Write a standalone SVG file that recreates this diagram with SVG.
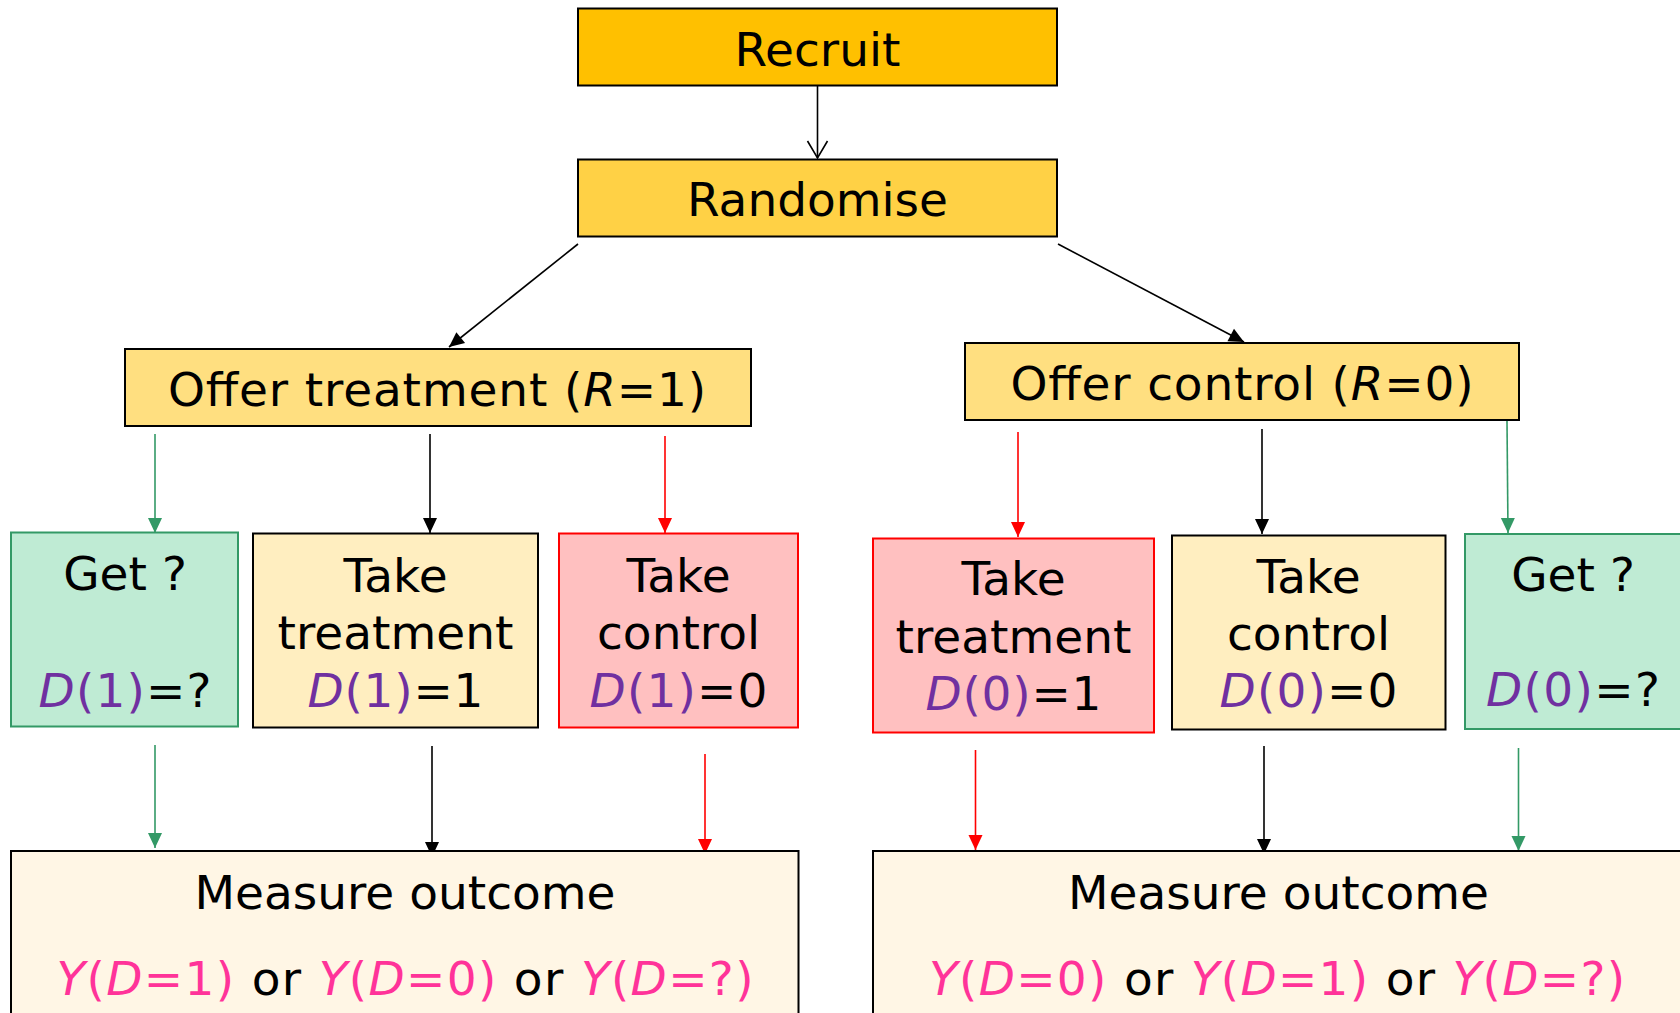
<svg xmlns="http://www.w3.org/2000/svg" width="1680" height="1013" viewBox="0 0 1680 1013">
  <style>
    text { font-family: "DejaVu Sans", Verdana, "Liberation Sans", sans-serif; font-size: 47px; fill: #000; }
    .it { font-style: italic; }
    .pu { fill: #7030A0; }
    .pk { fill: #FF3399; }
    .box { stroke-width: 2; }
    .blk { stroke: #000; }
    .grn { stroke: #339966; }
    .red { stroke: #FF0000; }
    .ln { fill: none; stroke-width: 1.6; }
  </style>
  <defs>
    <marker id="ah-black" markerUnits="userSpaceOnUse" markerWidth="15" markerHeight="14" refX="15" refY="7" orient="auto" overflow="visible">
      <path d="M0,0 L15,7 L0,14 z" fill="#000"/>
    </marker>
    <marker id="ah-green" markerUnits="userSpaceOnUse" markerWidth="15" markerHeight="14" refX="15" refY="7" orient="auto" overflow="visible">
      <path d="M0,0 L15,7 L0,14 z" fill="#339966"/>
    </marker>
    <marker id="ah-red" markerUnits="userSpaceOnUse" markerWidth="15" markerHeight="14" refX="15" refY="7" orient="auto" overflow="visible">
      <path d="M0,0 L15,7 L0,14 z" fill="#FF0000"/>
    </marker>
    <marker id="ah-open" markerUnits="userSpaceOnUse" markerWidth="18" markerHeight="22" refX="17" refY="10" orient="auto" overflow="visible">
      <path d="M0,0 L17,10 L0,20" fill="none" stroke="#000" stroke-width="1.6"/>
    </marker>
  </defs>

  <rect width="1680" height="1013" fill="#FFFFFF"/>

  <!-- connectors -->
  <g id="connectors">
    <line class="ln blk" x1="817.5" y1="86" x2="817.5" y2="158" marker-end="url(#ah-open)"/>
    <line class="ln blk" x1="578" y1="244" x2="449" y2="347" marker-end="url(#ah-black)"/>
    <line class="ln blk" x1="1058" y1="244" x2="1244" y2="342" marker-end="url(#ah-black)"/>

    <line class="ln grn" x1="155" y1="434" x2="155" y2="533" marker-end="url(#ah-green)"/>
    <line class="ln blk" x1="430" y1="434" x2="430" y2="533" marker-end="url(#ah-black)"/>
    <line class="ln red" x1="665" y1="436" x2="665" y2="533" marker-end="url(#ah-red)"/>

    <line class="ln red" x1="1018" y1="432" x2="1018" y2="537" marker-end="url(#ah-red)"/>
    <line class="ln blk" x1="1262" y1="429" x2="1262" y2="534" marker-end="url(#ah-black)"/>
    <line class="ln grn" x1="1507" y1="421" x2="1508" y2="533" marker-end="url(#ah-green)"/>

    <line class="ln grn" x1="155" y1="745" x2="155" y2="848" marker-end="url(#ah-green)"/>
    <line class="ln blk" x1="432" y1="746" x2="432" y2="857" marker-end="url(#ah-black)"/>
    <line class="ln red" x1="705" y1="754" x2="705" y2="854" marker-end="url(#ah-red)"/>

    <line class="ln red" x1="975.5" y1="750" x2="975.5" y2="850" marker-end="url(#ah-red)"/>
    <line class="ln blk" x1="1264" y1="746" x2="1264" y2="854" marker-end="url(#ah-black)"/>
    <line class="ln grn" x1="1518.5" y1="748" x2="1518.5" y2="851" marker-end="url(#ah-green)"/>
  </g>

  <!-- top of the flow -->
  <g id="recruit">
    <rect class="box blk" x="578" y="8.5" width="479" height="77" fill="#FFC000"/>
    <text x="817.5" y="65.5" text-anchor="middle">Recruit</text>
  </g>
  <g id="randomise">
    <rect class="box blk" x="578" y="159.5" width="479" height="77" fill="#FFD145"/>
    <text x="817.5" y="216" text-anchor="middle">Randomise</text>
  </g>

  <!-- randomised arms -->
  <g id="offer-treatment">
    <rect class="box blk" x="125" y="349" width="626" height="77" fill="#FFDF80"/>
    <text x="437" y="406" text-anchor="middle" textLength="538" lengthAdjust="spacing">Offer treatment (<tspan class="it">R</tspan>=1)</text>
  </g>
  <g id="offer-control">
    <rect class="box blk" x="965" y="343" width="554" height="77" fill="#FFDF80"/>
    <text x="1242" y="400" text-anchor="middle" textLength="463" lengthAdjust="spacing">Offer control (<tspan class="it">R</tspan>=0)</text>
  </g>

  <!-- treatment arm: received treatment -->
  <g id="t-get">
    <rect class="box grn" x="11" y="532.5" width="227" height="194" fill="#BFEBD4"/>
    <text x="125" y="590" text-anchor="middle">Get ?</text>
    <text x="125" y="707" text-anchor="middle" textLength="173" lengthAdjust="spacing"><tspan class="it pu">D</tspan><tspan class="pu">(1)</tspan>=?</text>
  </g>
  <g id="t-take-treatment">
    <rect class="box blk" x="253" y="533.5" width="285" height="194" fill="#FFEEC0"/>
    <text x="395.5" y="592" text-anchor="middle">Take</text>
    <text x="395.5" y="649" text-anchor="middle">treatment</text>
    <text x="395.5" y="707" text-anchor="middle" textLength="176" lengthAdjust="spacing"><tspan class="it pu">D</tspan><tspan class="pu">(1)</tspan>=1</text>
  </g>
  <g id="t-take-control">
    <rect class="box red" x="559" y="533.5" width="239" height="194" fill="#FFC0C0"/>
    <text x="678.5" y="592" text-anchor="middle">Take</text>
    <text x="678.5" y="649" text-anchor="middle">control</text>
    <text x="678.5" y="707" text-anchor="middle" textLength="178" lengthAdjust="spacing"><tspan class="it pu">D</tspan><tspan class="pu">(1)</tspan>=0</text>
  </g>

  <!-- control arm: received treatment -->
  <g id="c-take-treatment">
    <rect class="box red" x="873" y="538.5" width="281" height="194" fill="#FFC0C0"/>
    <text x="1013.5" y="595" text-anchor="middle">Take</text>
    <text x="1013.5" y="653" text-anchor="middle">treatment</text>
    <text x="1013.5" y="710" text-anchor="middle" textLength="176" lengthAdjust="spacing"><tspan class="it pu">D</tspan><tspan class="pu">(0)</tspan>=1</text>
  </g>
  <g id="c-take-control">
    <rect class="box blk" x="1172" y="535.5" width="273.5" height="194" fill="#FFEEC0"/>
    <text x="1308.5" y="593" text-anchor="middle">Take</text>
    <text x="1308.5" y="650" text-anchor="middle">control</text>
    <text x="1308.5" y="707" text-anchor="middle" textLength="178" lengthAdjust="spacing"><tspan class="it pu">D</tspan><tspan class="pu">(0)</tspan>=0</text>
  </g>
  <g id="c-get">
    <rect class="box grn" x="1465" y="534" width="226" height="195" fill="#BFEBD4"/>
    <text x="1573" y="590.5" text-anchor="middle">Get ?</text>
    <text x="1573" y="706" text-anchor="middle" textLength="174" lengthAdjust="spacing"><tspan class="it pu">D</tspan><tspan class="pu">(0)</tspan>=?</text>
  </g>

  <!-- outcomes -->
  <g id="t-measure">
    <rect class="box blk" x="11" y="851" width="787.5" height="190" fill="#FFF6E5"/>
    <text x="405" y="908.5" text-anchor="middle">Measure outcome</text>
    <text x="405" y="995" text-anchor="middle" textLength="697" lengthAdjust="spacing"><tspan class="pk"><tspan class="it">Y</tspan>(<tspan class="it">D</tspan>=1)</tspan> or <tspan class="pk"><tspan class="it">Y</tspan>(<tspan class="it">D</tspan>=0)</tspan> or <tspan class="pk"><tspan class="it">Y</tspan>(<tspan class="it">D</tspan>=?)</tspan></text>
  </g>
  <g id="c-measure">
    <rect class="box blk" x="873" y="851" width="810" height="190" fill="#FFF6E5"/>
    <text x="1278.5" y="908.5" text-anchor="middle">Measure outcome</text>
    <text x="1277" y="995" text-anchor="middle" textLength="696" lengthAdjust="spacing"><tspan class="pk"><tspan class="it">Y</tspan>(<tspan class="it">D</tspan>=0)</tspan> or <tspan class="pk"><tspan class="it">Y</tspan>(<tspan class="it">D</tspan>=1)</tspan> or <tspan class="pk"><tspan class="it">Y</tspan>(<tspan class="it">D</tspan>=?)</tspan></text>
  </g>
</svg>
